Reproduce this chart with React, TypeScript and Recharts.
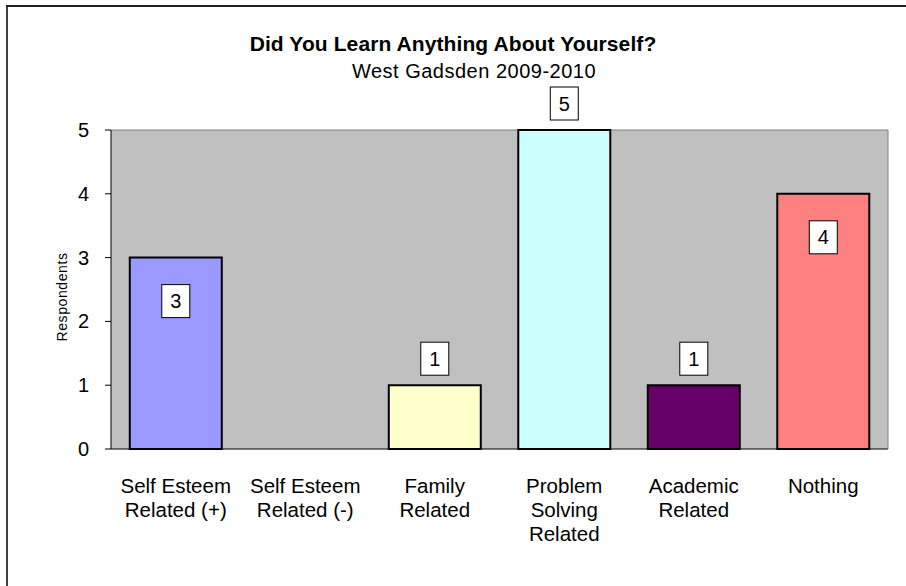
import React from 'react';
import { BarChart, Bar, XAxis, YAxis, CartesianGrid, Cell, LabelList } from 'recharts';

const categories = [
  'Self Esteem Related (+)',
  'Self Esteem Related (-)',
  'Family Related',
  'Problem Solving Related',
  'Academic Related',
  'Nothing',
];
const tickLabelLines = [
  ['Self Esteem', 'Related (+)'],
  ['Self Esteem', 'Related (-)'],
  ['Family', 'Related'],
  ['Problem', 'Solving', 'Related'],
  ['Academic', 'Related'],
  ['Nothing'],
];
const respondents = [3, 0, 1, 5, 1, 4];
const barColors = ['#9999FF', '#993366', '#FFFFCC', '#CCFFFF', '#660066', '#FF8080'];
const yTicks = [0, 1, 2, 3, 4, 5];
const boundaryTicks = [0, 1, 2, 3, 4, 5, 6];
const labelsInside = ['Self Esteem Related (+)', 'Nothing'];

const data = categories.map((c, i) => ({ category: c, value: respondents[i] }));

const FONT = '"Liberation Sans", Arial, sans-serif';

const XTick = (props: any) => {
  const { x, y, payload } = props;
  const idx = categories.indexOf(payload.value);
  const lines = idx >= 0 ? tickLabelLines[idx] : [String(payload.value)];
  return (
    <g>
      {lines.map((l, i) => (
        <text key={i} x={x} y={y + 38 + i * 24} textAnchor="middle" fontSize={20.5} fontFamily={FONT} fill="#000">
          {l}
        </text>
      ))}
    </g>
  );
};

const YTick = (props: any) => {
  const { x, y, payload } = props;
  return (
    <text x={x - 16} y={y + 7} textAnchor="end" fontSize={20} fontFamily={FONT} fill="#000">
      {payload.value}
    </text>
  );
};

const ValueLabel = (props: any) => {
  const { x, y, width, value } = props;
  const idx = categories.indexOf(String(value));
  if (idx < 0) return null;
  const v = respondents[idx];
  if (!v) return null;
  const cx = Number(x) + Number(width) / 2;
  const inside = labelsInside.includes(categories[idx]);
  const bw = 28;
  const bh = 33;
  const top = inside ? Number(y) + 27 : Number(y) - 10 - bh;
  return (
    <g>
      <rect x={cx - bw / 2} y={top} width={bw} height={bh} fill="#fff" stroke="#000" strokeWidth={1} />
      <text x={cx} y={top + bh / 2 + 7} textAnchor="middle" fontSize={20} fontFamily={FONT} fill="#000">
        {v}
      </text>
    </g>
  );
};

export default function App() {
  return (
    <div style={{ position: 'absolute', left: 0, top: 0, width: 906, height: 586, background: '#fff', overflow: 'hidden' }}>
      <svg width={906} height={586} style={{ position: 'absolute', left: 0, top: 0 }}>
        <line x1={7} y1={6} x2={7} y2={586} stroke="#404040" strokeWidth={2} />
        <line x1={6} y1={6} x2={906} y2={6} stroke="#202020" strokeWidth={2} />
        <text x={453} y={51} textAnchor="middle" fontSize={21} fontWeight="bold" letterSpacing={0.1} fontFamily={FONT} fill="#000">
          Did You Learn Anything About Yourself?
        </text>
        <text x={474} y={78} textAnchor="middle" fontSize={20} letterSpacing={0.5} fontFamily={FONT} fill="#000">
          West Gadsden 2009-2010
        </text>
        <text
          x={0}
          y={0}
          transform="translate(62,297) rotate(-90)"
          textAnchor="middle"
          dominantBaseline="central"
          fontSize={14}
          letterSpacing={0.6}
          fontFamily={FONT}
          fill="#000"
        >
          Respondents
        </text>
      </svg>
      <div style={{ position: 'absolute', left: 0, top: 0 }}>
        <BarChart
          width={906}
          height={586}
          data={data}
          margin={{ top: 130, right: 0, bottom: 0, left: 0 }}
          barCategoryGap="14.5%"
        >
          <CartesianGrid fill="#C0C0C0" fillOpacity={1} vertical={false} horizontalValues={[5]} stroke="#808080" />
          <XAxis
            xAxisId="bounds"
            type="number"
            domain={[0, 6]}
            ticks={boundaryTicks}
            allowDataOverflow
            height={0}
            tickSize={6}
            tickLine={{ stroke: '#000' }}
            axisLine={false}
            tick={() => <g />}
            interval={0}
          />
          <XAxis
            dataKey="category"
            height={137}
            tickLine={false}
            tickSize={6}
            tickMargin={0}
            axisLine={{ stroke: '#000' }}
            tick={<XTick />}
            interval={0}
          />
          <YAxis
            width={111}
            domain={[0, 5]}
            ticks={yTicks}
            tickSize={6}
            tickMargin={0}
            axisLine={{ stroke: '#000' }}
            tickLine={{ stroke: '#000' }}
            tick={<YTick />}
            interval={0}
          />
          <YAxis
            yAxisId="right"
            orientation="right"
            width={18}
            type="number"
            domain={[0, 5]}
            allowDataOverflow
            tick={false}
            tickLine={false}
            axisLine={{ stroke: '#808080' }}
          />
          <Bar dataKey="value" stroke="#000" strokeWidth={2} isAnimationActive={false}>
            {data.map((d, i) => (
              <Cell key={d.category} fill={barColors[i]} />
            ))}
            <LabelList dataKey="category" content={<ValueLabel />} />
          </Bar>
        </BarChart>
      </div>
    </div>
  );
}
